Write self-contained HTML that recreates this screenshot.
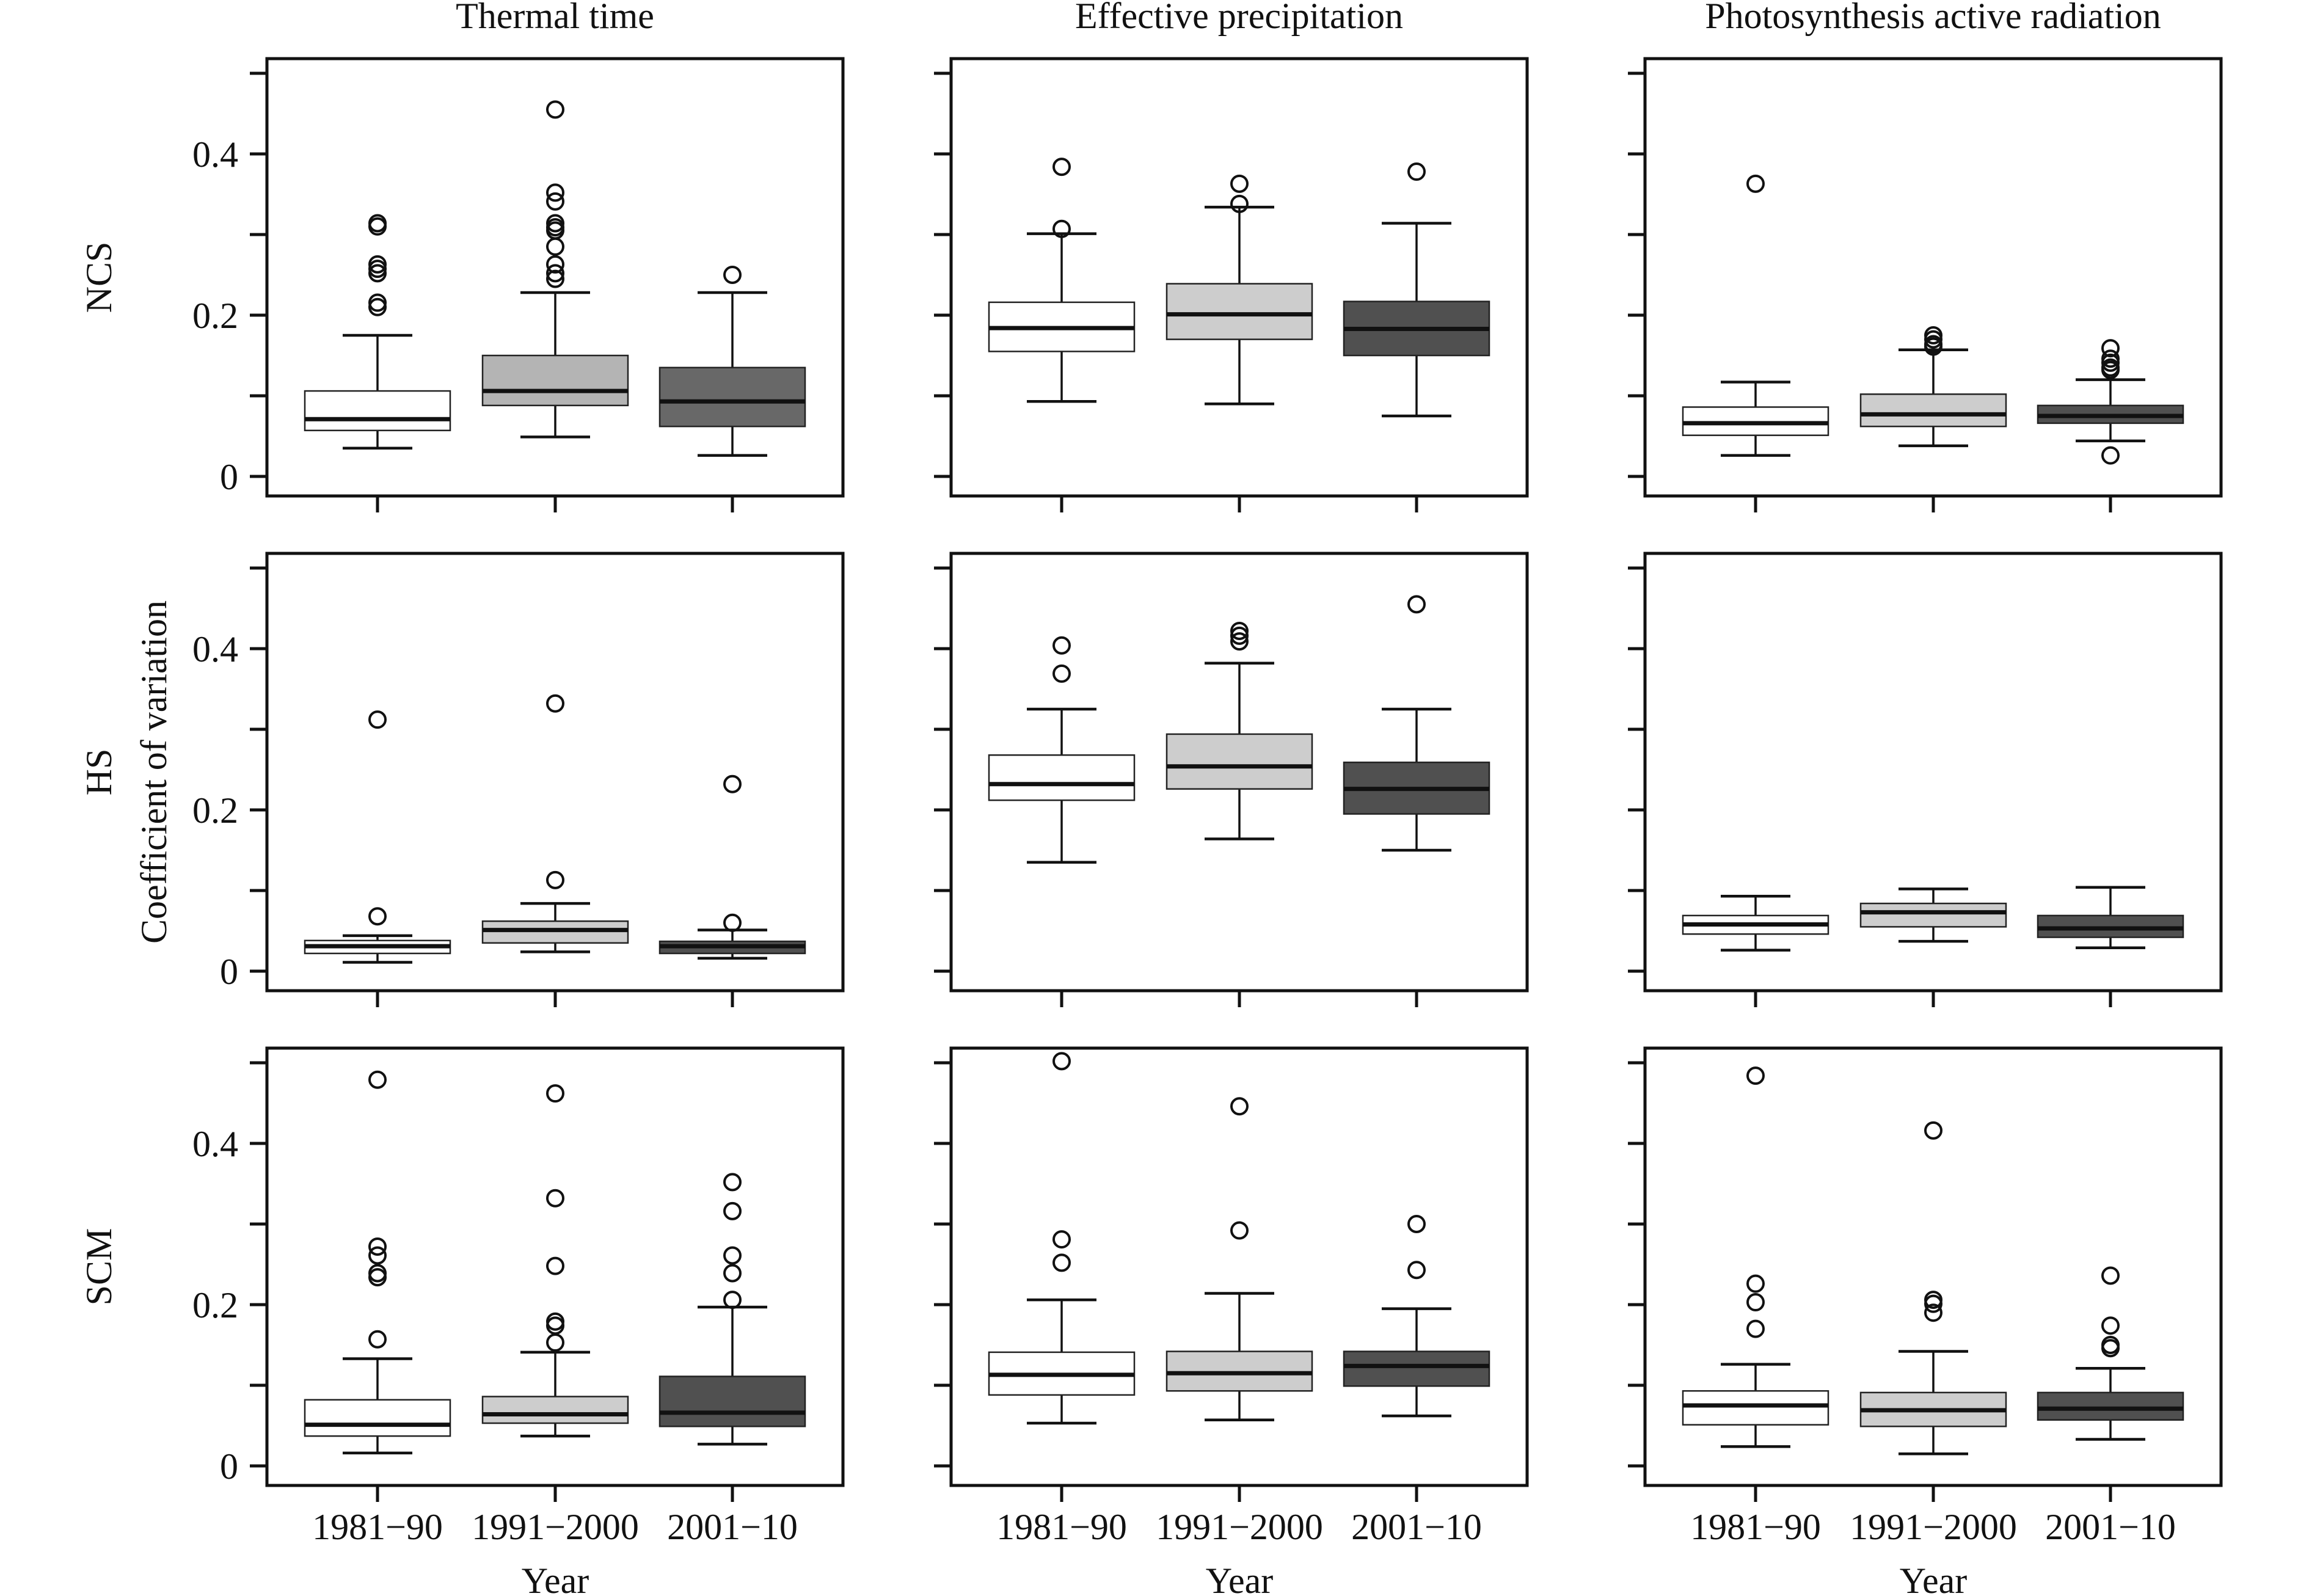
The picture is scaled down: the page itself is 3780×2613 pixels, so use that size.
<!DOCTYPE html>
<html><head><meta charset="utf-8"><style>
html,body{margin:0;padding:0;background:#fff;}
svg{display:block;}
text{font-family:"Liberation Serif",serif;fill:#111;}
</style></head><body>
<svg id="chart" width="3780" height="2613" viewBox="0 0 3780 2613" xmlns="http://www.w3.org/2000/svg"></svg>
<script>
const columnTitles = ["Thermal time", "Effective precipitation", "Photosynthesis active radiation"];
const rowLabels = ["NCS", "HS", "SCM"];
const categories = ["1981\u221290", "1991\u22122000", "2001\u221210"];
const yTicks = [0, 0.1, 0.2, 0.3, 0.4, 0.5];
const yTickLabels = ["0", "", "0.2", "", "0.4", ""];
// each stat: [low whisker, q1, median, q3, high whisker]
const ncsTT = [[.035,.057,.071,.106,.175],[.049,.088,.106,.15,.228],[.026,.062,.093,.135,.228]];
const ncsTTout = [[.314,.31,.263,.2575,.252,.2155,.21],[.455,.352,.341,.314,.309,.305,.285,.263,.252,.245],[.25]];
const ncsEP = [[.093,.155,.184,.216,.301],[.09,.17,.201,.239,.334],[.075,.15,.183,.217,.314]];
const ncsEPout = [[.307,.384],[.338,.363],[.378]];
const ncsPAR = [[.026,.051,.066,.086,.117],[.038,.062,.077,.102,.157],[.044,.066,.075,.088,.12]];
const ncsPARout = [[.363],[.175,.17,.164,.161],[.159,.146,.141,.135,.132,.026]];
const hsTT = [[.011,.022,.031,.038,.044],[.024,.035,.051,.062,.084],[.016,.022,.031,.037,.051]];
const hsTTout = [[.068,.312],[.113,.332],[.06,.232]];
const hsEP = [[.135,.212,.232,.268,.325],[.164,.226,.254,.294,.382],[.15,.195,.226,.259,.325]];
const hsEPout = [[.369,.404],[.409,.416,.422],[.455]];
const hsPAR = [[.026,.046,.058,.069,.093],[.037,.055,.073,.084,.102],[.029,.042,.053,.069,.104]];
const hsPARout = [[],[],[]];
const scmTT = [[.016,.037,.051,.082,.133],[.037,.053,.064,.086,.141],[.027,.049,.066,.111,.197]];
const scmTTout = [[.479,.272,.261,.239,.234,.157],[.462,.332,.248,.179,.174,.153],[.352,.316,.261,.239,.206]];
const scmEP = [[.053,.088,.113,.141,.206],[.057,.093,.115,.142,.214],[.062,.099,.124,.142,.195]];
const scmEPout = [[.502,.281,.252],[.446,.292],[.3,.243]];
const scmPAR = [[.024,.051,.075,.093,.126],[.015,.049,.069,.091,.142],[.033,.057,.071,.091,.121]];
const scmPARout = [[.484,.226,.203,.17],[.416,.206,.201,.19],[.236,.174,.15,.146]];

const panels = [
  [[ncsTT,ncsTTout],[ncsEP,ncsEPout],[ncsPAR,ncsPARout]],
  [[hsTT,hsTTout],[hsEP,hsEPout],[hsPAR,hsPARout]],
  [[scmTT,scmTTout],[scmEP,scmEPout],[scmPAR,scmPARout]]
];

const NS = "http://www.w3.org/2000/svg";
const svg = document.getElementById("chart");
function mk(tag, attrs, parent) {
  const e = document.createElementNS(NS, tag);
  for (const k in attrs) e.setAttribute(k, attrs[k]);
  (parent || svg).appendChild(e);
  return e;
}
const colLeft = [437, 1557, 2693];
const panelW = 943;
const rowTop = [96, 906, 1716];
const panelH = 716;
const zeroOff = 684;
const perUnit = 1320;
const groupOff = [181, 472, 762];
const boxHalf = 119, capHalf = 57;
const FS = 60;

function fills(r, c) {
  if (r === 0 && c === 0) return ["#ffffff", "#b4b4b4", "#686868"];
  return ["#ffffff", "#cdcdcd", "#505050"];
}

columnTitles.forEach((t, c) => {
  const e = mk("text", {x: colLeft[c] + panelW / 2, y: 46, "text-anchor": "middle", "font-size": FS});
  e.textContent = t;
  
  
});
const rowCenters = [rowTop[0] + 218, rowTop[1] + 218, rowTop[2] + 218].map(v => v + 140);
rowLabels.forEach((t, r) => {
  const e = mk("text", {x: 0, y: 0, "text-anchor": "middle", "font-size": FS,
    transform: `translate(182,${rowCenters[r]}) rotate(-90)`});
  e.textContent = t;
  
  
});
const ylab = mk("text", {x: 0, y: 0, "text-anchor": "middle", "font-size": FS,
  transform: `translate(272,${rowCenters[1]}) rotate(-90)`});
ylab.textContent = "Coefficient of variation";



for (let r = 0; r < 3; r++) {
  for (let c = 0; c < 3; c++) {
    const L = colLeft[c], T = rowTop[r];
    const y = v => T + zeroOff - v * perUnit;
    const g = mk("g", {});
    
    
    const frame = mk("rect", {x: L, y: T, width: panelW, height: panelH, fill: "none", stroke: "#111", "stroke-width": 5}, g);
    
    
    yTicks.forEach((t, i) => {
      const tk = mk("line", {x1: L - 28, x2: L, y1: y(t), y2: y(t), stroke: "#111", "stroke-width": 5}, g);
      
      
      if (c === 0 && yTickLabels[i]) {
        const tl = mk("text", {x: 390, y: y(t) + 21, "text-anchor": "end", "font-size": FS}, g);
        tl.textContent = yTickLabels[i];
        
        
      }
    });
    const [stats, outs] = panels[r][c];
    const fl = fills(r, c);
    stats.forEach((s, k) => {
      const cx = L + groupOff[k];
      const xt = mk("line", {x1: cx, x2: cx, y1: T + panelH, y2: T + panelH + 27, stroke: "#111", "stroke-width": 5}, g);
      
      
      if (r === 2) {
        const xl = mk("text", {x: cx, y: 2520, "text-anchor": "middle", "font-size": FS}, g);
        xl.textContent = categories[k];
        
        
      }
      const w1 = mk("line", {x1: cx, x2: cx, y1: y(s[0]), y2: y(s[1]), stroke: "#111", "stroke-width": 3.5}, g);
      
      
      const w2 = mk("line", {x1: cx, x2: cx, y1: y(s[3]), y2: y(s[4]), stroke: "#111", "stroke-width": 3.5}, g);
      
      
      [s[0], s[4]].forEach(v => {
        const cap = mk("line", {x1: cx - capHalf, x2: cx + capHalf, y1: y(v), y2: y(v), stroke: "#111", "stroke-width": 4.5}, g);
        
        
      });
      const box = mk("rect", {x: cx - boxHalf, y: y(s[3]), width: boxHalf * 2, height: y(s[1]) - y(s[3]), fill: fl[k], stroke: "#222", "stroke-width": 2.5}, g);
      
      
      const med = mk("line", {x1: cx - boxHalf, x2: cx + boxHalf, y1: y(s[2]), y2: y(s[2]), stroke: "#111", "stroke-width": 7}, g);
      
      
      outs[k].forEach(v => {
        const o = mk("circle", {cx: cx, cy: y(v), r: 13, fill: "none", stroke: "#111", "stroke-width": 4}, g);
        
        
      });
    });
    if (r === 2) {
      const yr = mk("text", {x: L + groupOff[1], y: 2608, "text-anchor": "middle", "font-size": FS}, g);
      yr.textContent = "Year";
      
      
    }
  }
}
</script>
</body></html>
